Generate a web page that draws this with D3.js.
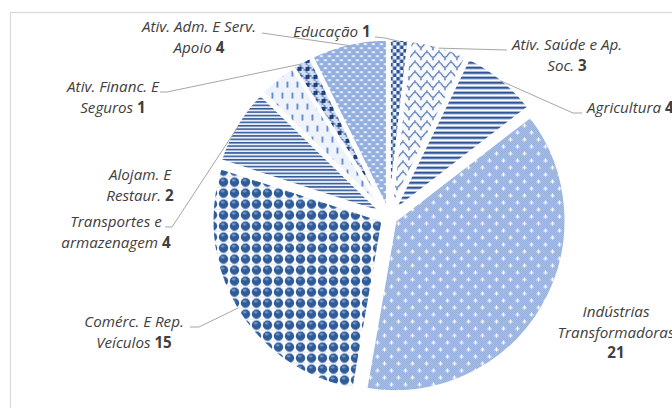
<!DOCTYPE html>
<html>
<head>
<meta charset="utf-8">
<script src="https://cdn.jsdelivr.net/npm/d3@7"></script>
<style>
body { margin: 0; background: #fff; }
svg { display: block; }
.lbl { font-family: "Open Sans", Lato, sans-serif; font-style: italic; font-size: 15.2px; fill: #404040; }
.lbl .val { font-weight: bold; font-style: normal; }
.lead { fill: none; stroke: #a6a6a6; stroke-width: 1; }
</style>
</head>
<body>
<script>
// data, clockwise from 12 o'clock
var categories = ["Educação", "Ativ. Saúde e Ap. Soc.", "Agricultura", "Indústrias Transformadoras",
    "Comérc. E Rep. Veículos", "Transportes e armazenagem", "Alojam. E Restaur.",
    "Ativ. Financ. E Seguros", "Ativ. Adm. E Serv. Apoio"];
var values = [1, 3, 4, 21, 15, 4, 2, 1, 4];
// label text split in lines (value goes at the end of the last line)
var labelLines = [
    ["Educação"],
    ["Ativ. Saúde e Ap.", "Soc."],
    ["Agricultura"],
    ["Indústrias", "Transformadoras", ""],
    ["Comérc. E Rep.", "Veículos"],
    ["Transportes e", "armazenagem"],
    ["Alojam. E", "Restaur."],
    ["Ativ. Financ. E", "Seguros"],
    ["Ativ. Adm. E Serv.", "Apoio"]
];
var patternIds = ["p-edu", "p-sau", "p-agr", "p-ind", "p-com", "p-tra", "p-alo", "p-fin", "p-adm"];

// layout of the labels (x, first baseline, anchor, leader start/elbow)
var labelLayout = [
    {x: 332, y: 37, anchor: "middle", lead: [[375, 37], [385, 38]]},
    {x: 567, y: 50, anchor: "middle", lead: [[507, 50]]},
    {x: 587, y: 113, anchor: "start", lead: [[582, 113], [573, 113]]},
    {x: 616, y: 317, anchor: "middle", lead: null},
    {x: 134, y: 327, anchor: "middle", lead: [[190, 327], [199, 327]]},
    {x: 116, y: 227, anchor: "middle", lead: [[165, 227], [172, 227]]},
    {x: 140, y: 180, anchor: "middle", lead: null},
    {x: 113, y: 92, anchor: "middle", lead: [[160, 92], [167, 92]]},
    {x: 199, y: 32, anchor: "middle", lead: [[262, 33]]}
];

var width = 672, height = 408;
var cx = 389, cy = 217, radius = 171, explode = 7, lineH = 20.5;

var svg = d3.select("body").append("svg").attr("width", width).attr("height", height);

// chart area border (cut by the picture on right and bottom)
svg.append("rect").attr("x", 10.5).attr("y", 12.5).attr("width", 700).attr("height", 420)
    .attr("fill", "#fff").attr("stroke", "#d9d9d9").attr("stroke-width", 1.2);

var defs = svg.append("defs");
function pat(id, w, h) {
    return defs.append("pattern").attr("id", id).attr("patternUnits", "userSpaceOnUse")
        .attr("width", w).attr("height", h);
}
function rect(p, x, y, w, h, c) {
    p.append("rect").attr("x", x).attr("y", y).attr("width", w).attr("height", h).attr("fill", c);
}

// Educação - dark checker
var p = pat("p-edu", 7, 7);
rect(p, 0, 0, 7, 7, "#eef2fa");
rect(p, 0, 0, 3.5, 3.5, "#2f5597");
rect(p, 3.5, 3.5, 3.5, 3.5, "#2f5597");

// Saúde - shingle waves
p = pat("p-sau", 12, 10);
rect(p, 0, 0, 12, 10, "#f7f9fd");
p.append("path").attr("d", "M0,2 C3,2 3,7 6,7 C9,7 9,2 12,2 M6,7 L6,10 M0,-3 L0,2 M12,-3 L12,2")
    .attr("fill", "none").attr("stroke", "#3a62a8").attr("stroke-width", 1.2);

// Agricultura - wide horizontal stripes
p = pat("p-agr", 5, 5);
rect(p, 0, 0, 5, 5, "#ffffff");
rect(p, 0, 0, 5, 2.2, "#2f5597");
rect(p, 0, 2.2, 5, 0.8, "#8fa9d6");

// Indústrias - fine checker with white crosses
p = pat("p-ind", 14, 14);
rect(p, 0, 0, 14, 14, "#c2d2ee");
for (var i = 0; i < 14; i++) {
    for (var j = 0; j < 14; j++) {
        if ((i + j) % 2 === 0) rect(p, i, j, 1, 1, "#7c9dd5");
    }
}
[[3, 3], [10, 10]].forEach(function(c) {
    rect(p, c[0] - 1.5, c[1] - 0.5, 4, 1.2, "#ffffff");
    rect(p, c[0] - 0.1, c[1] - 1.9, 1.2, 4, "#ffffff");
});

// Comércio - spheres
p = pat("p-com", 11, 11);
rect(p, 0, 0, 11, 11, "#ffffff");
p.append("circle").attr("cx", 5.5).attr("cy", 5.5).attr("r", 4.7).attr("fill", "#2f5c99");
p.append("ellipse").attr("cx", 4.7).attr("cy", 3.6).attr("rx", 2).attr("ry", 1.1).attr("fill", "#7f9cc9");
rect(p, 0, 10.4, 11, 0.6, "#c9d6ec");

// Transportes - narrow horizontal stripes
p = pat("p-tra", 4, 3.4);
rect(p, 0, 0, 4, 3.4, "#e9eff9");
rect(p, 0, 0, 4, 1.5, "#2f5597");

// Alojam. - dashed vertical
p = pat("p-alo", 10, 22);
rect(p, 0, 0, 10, 22, "#eef3fb");
rect(p, 2, 2, 1.6, 6, "#4a78c2");
rect(p, 7, 13, 1.6, 6, "#4a78c2");

// Financ. - plaid
p = pat("p-fin", 8, 8);
rect(p, 0, 0, 8, 8, "#d6e0f2");
rect(p, 0, 0, 4, 4, "#1f3f78");
rect(p, 4, 0, 2, 2, "#6f8fc8");
rect(p, 0, 4, 2, 2, "#6f8fc8");
rect(p, 6, 2, 2, 2, "#6f8fc8");
rect(p, 2, 6, 2, 2, "#6f8fc8");

// Adm. - light blue with white dots
p = pat("p-adm", 8, 8);
rect(p, 0, 0, 8, 8, "#93afdf");
p.append("ellipse").attr("cx", 2).attr("cy", 2).attr("rx", 1.7).attr("ry", 0.9).attr("fill", "#ffffff");
p.append("ellipse").attr("cx", 6).attr("cy", 6).attr("rx", 1.7).attr("ry", 0.9).attr("fill", "#ffffff");

var pie = d3.pie().sort(null).value(function(d) { return d; });
var arcs = pie(values);
var arc = d3.arc().innerRadius(0).outerRadius(radius);

function offset(d, r) {
    var a = (d.startAngle + d.endAngle) / 2;
    return [Math.sin(a) * r, -Math.cos(a) * r];
}

var g = svg.append("g").attr("transform", "translate(" + cx + "," + cy + ")");

g.selectAll(".slice").data(arcs).enter().append("path")
    .attr("class", "slice")
    .attr("d", arc)
    .attr("transform", function(d) {
        var o = offset(d, explode);
        return "translate(" + o[0] + "," + o[1] + ")";
    })
    .attr("fill", function(d, i) { return "url(#" + patternIds[i] + ")"; })
    .attr("stroke", "#fff")
    .attr("stroke-width", 3)
    .attr("stroke-linejoin", "round");

// leader lines
arcs.forEach(function(d, i) {
    var L = labelLayout[i];
    if (!L.lead) return;
    var o = offset(d, explode), e = offset(d, radius - 2);
    var pts = L.lead.concat([[cx + o[0] + e[0], cy + o[1] + e[1]]]);
    svg.append("path").attr("class", "lead").attr("d", d3.line()(pts));
});

// labels
labelLines.forEach(function(lines, i) {
    var L = labelLayout[i];
    lines.forEach(function(line, k) {
        var t = svg.append("text").attr("class", "lbl")
            .attr("x", L.x).attr("y", L.y + k * lineH)
            .attr("text-anchor", L.anchor);
        if (k === lines.length - 1) {
            if (line) t.append("tspan").text(line + " ");
            t.append("tspan").attr("class", "val").text(values[i]);
        } else {
            t.text(line);
        }
    });
});
</script>
</body>
</html>
